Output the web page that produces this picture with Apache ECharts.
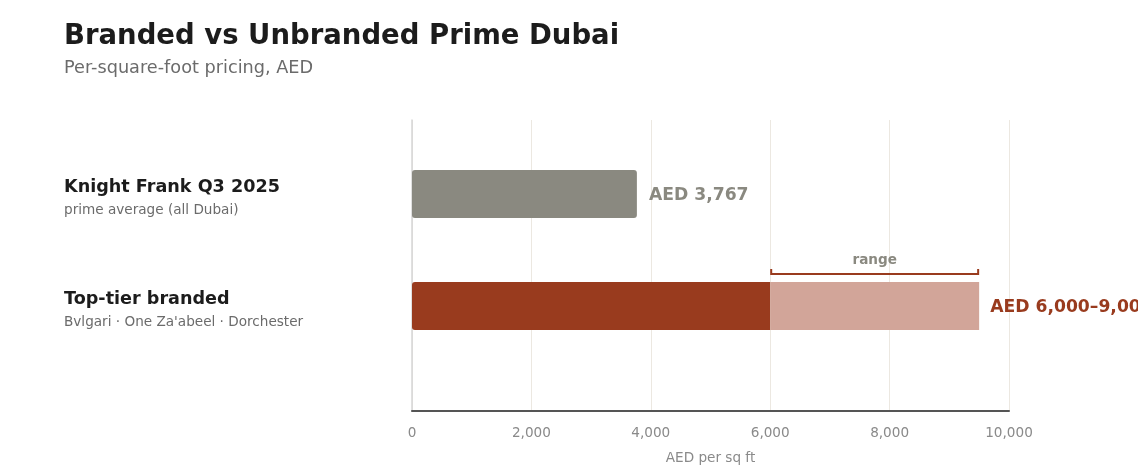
<html>
    <head>
        <meta charset="utf-8">
        <script src="https://cdn.jsdelivr.net/npm/echarts@6/dist/echarts.min.js"></script>
    </head>
    <body style="margin:0">
        <style>
            #main {
                position: absolute;
                left: 0;
                top: 0;
                width: 1138px;
                height: 476px;
                background: #fff;
            }
        </style>
        <div id="main"></div>

        <script>

            // chart data
            var categories = ['Knight Frank Q3 2025', 'Top-tier branded'];
            var subLabels = ['prime average (all Dubai)', 'Bvlgari \u00b7 One Za\'abeel \u00b7 Dorchester'];
            var baseValues = [3767, 6000];
            var rangeTop = [null, 9500];
            var valueLabels = ['AED 3,767', 'AED 6,000\u20139,000+'];
            var xMin = 0;
            var xMax = 10000;
            var xStep = 2000;

            var font = 'DejaVu Sans';
            var grey = '#8a8980';
            var rust = '#993b1e';
            var rustLight = '#d2a599';

            var chart = echarts.init(document.getElementById('main'));

            var baseData = baseValues.map(function (v, i) {
                var last = rangeTop[i] == null;
                return {
                    value: v,
                    itemStyle: {
                        color: i === 0 ? grey : rust,
                        borderRadius: last ? 3 : [3, 0, 0, 3]
                    },
                    label: {
                        show: last,
                        color: i === 0 ? grey : rust
                    }
                };
            });

            var rangeData = rangeTop.map(function (v, i) {
                if (v == null) {
                    return '-';
                }
                return {
                    value: v - baseValues[i],
                    label: { show: true }
                };
            });

            var bracketData = [];
            rangeTop.forEach(function (v, i) {
                if (v != null) {
                    bracketData.push([baseValues[i], v, i]);
                }
            });

            chart.setOption({
                animation: false,
                textStyle: { fontFamily: font },
                title: {
                    text: 'Branded vs Unbranded Prime Dubai',
                    subtext: 'Per-square-foot pricing, AED',
                    left: 59,
                    top: 18,
                    itemGap: 8,
                    textStyle: {
                        fontFamily: font,
                        fontSize: 27.5,
                        fontWeight: 'bold',
                        color: '#1c1c1c'
                    },
                    subtextStyle: {
                        fontFamily: font,
                        fontSize: 17.7,
                        color: '#6b6b6b'
                    }
                },
                grid: [
                    { left: 412, right: 129, top: 120, bottom: 65 },
                    { left: 412, right: 129, top: 138, bottom: 114 }
                ],
                xAxis: [
                    {
                        gridIndex: 0,
                        type: 'value',
                        min: xMin,
                        max: xMax,
                        interval: xStep,
                        name: 'AED per sq ft',
                        nameLocation: 'middle',
                        nameGap: 40,
                        nameTextStyle: { color: '#8a8a8a', fontSize: 13.6, fontFamily: font },
                        axisLine: { show: true, lineStyle: { color: '#555', width: 2 } },
                        axisTick: { show: false },
                        axisLabel: {
                            color: '#8a8a8a',
                            fontSize: 13.6,
                            fontFamily: font,
                            margin: 15,
                            formatter: function (v) {
                                return v.toLocaleString('en-US');
                            }
                        },
                        splitLine: { show: true, lineStyle: { color: '#ece8e1', width: 1 } }
                    },
                    {
                        gridIndex: 1,
                        type: 'value',
                        min: xMin,
                        max: xMax,
                        show: false
                    }
                ],
                yAxis: [
                    {
                        gridIndex: 0,
                        type: 'value',
                        axisLine: { show: true, lineStyle: { color: '#d6d6d6', width: 1.5 } },
                        axisLabel: { show: false },
                        axisTick: { show: false },
                        splitLine: { show: false }
                    },
                    {
                        gridIndex: 1,
                        type: 'category',
                        inverse: true,
                        data: categories,
                        axisLine: { show: false },
                        axisTick: { show: false },
                        axisLabel: {
                            align: 'left',
                            margin: 348,
                            padding: [8, 0, 0, 0],
                            fontFamily: font,
                            formatter: function (v, i) {
                                return '{t|' + v + '}\n{s|' + subLabels[i] + '}';
                            },
                            rich: {
                                t: { fontSize: 17.6, fontWeight: 'bold', color: '#1c1c1c', lineHeight: 24, fontFamily: font },
                                s: { fontSize: 13.6, color: '#6b6b6b', lineHeight: 22, fontFamily: font }
                            }
                        }
                    }
                ],
                series: [
                    {
                        type: 'bar',
                        xAxisIndex: 1,
                        yAxisIndex: 1,
                        stack: 'price',
                        barWidth: 48,
                        data: baseData,
                        label: {
                            position: 'right',
                            distance: 12,
                            offset: [0, 2],
                            fontSize: 17.2,
                            fontWeight: 'bold',
                            fontFamily: font,
                            formatter: function (p) {
                                return valueLabels[p.dataIndex];
                            }
                        }
                    },
                    {
                        type: 'bar',
                        xAxisIndex: 1,
                        yAxisIndex: 1,
                        stack: 'price',
                        barWidth: 48,
                        data: rangeData,
                        itemStyle: { color: rustLight, borderRadius: 0 },
                        label: {
                            position: 'right',
                            distance: 11,
                            offset: [0, 2],
                            fontSize: 17.2,
                            fontWeight: 'bold',
                            fontFamily: font,
                            color: rust,
                            formatter: function (p) {
                                return valueLabels[p.dataIndex];
                            }
                        }
                    },
                    {
                        type: 'custom',
                        xAxisIndex: 1,
                        yAxisIndex: 1,
                        data: bracketData,
                        renderItem: function (params, api) {
                            var a = api.coord([api.value(0), api.value(2)]);
                            var b = api.coord([api.value(1), api.value(2)]);
                            var y = a[1] - 32;
                            return {
                                type: 'group',
                                children: [
                                    {
                                        type: 'polyline',
                                        shape: { points: [[a[0] + 1, y - 5], [a[0] + 1, y], [b[0] - 1, y], [b[0] - 1, y - 5]] },
                                        style: { stroke: rust, lineWidth: 2, fill: null }
                                    },
                                    {
                                        type: 'text',
                                        x: (a[0] + b[0]) / 2,
                                        y: y - 14,
                                        style: {
                                            text: 'range',
                                            fill: grey,
                                            fontSize: 13.6,
                                            fontWeight: 'bold',
                                            fontFamily: font,
                                            align: 'center',
                                            verticalAlign: 'middle'
                                        }
                                    }
                                ]
                            };
                        }
                    }
                ]
            });

        </script>
    </body>
</html>
